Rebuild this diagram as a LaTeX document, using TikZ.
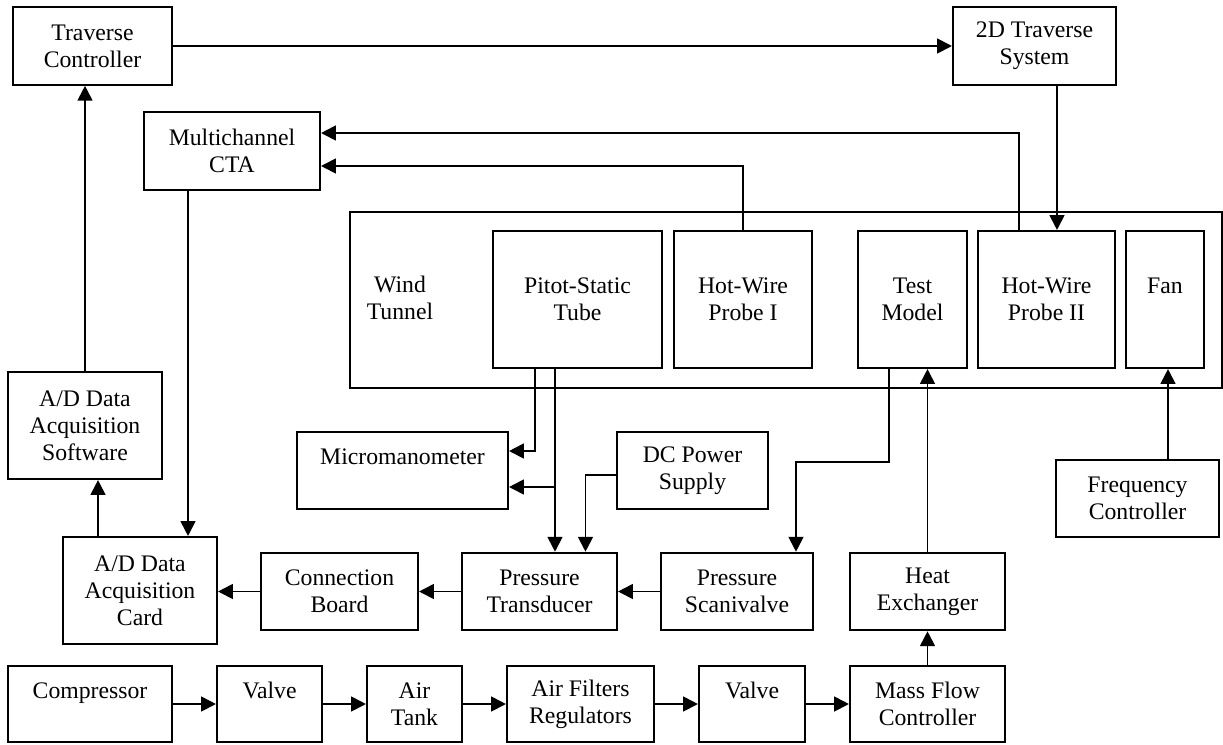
\documentclass[tikz,border=0pt]{standalone}
\usepackage{fontspec}
\setmainfont{Liberation Serif}
\usetikzlibrary{arrows.meta,calc}

\begin{document}
\begin{tikzpicture}[
        x=0.02cm, y=-0.02cm,
        blk/.style={draw, line width=1.2pt, align=center, inner sep=0pt, minimum height=1.55cm,
            font=\fontsize{13.5}{15.4}\selectfont},
        big/.style={blk, minimum height=2.14cm},
        tall/.style={blk, minimum height=2.74cm},
        low/.style={blk, minimum height=1.52cm},
        arr/.style={draw, line width=1.1pt, -{Triangle[length=8.5pt,width=8.5pt]}},
    ]
    \useasboundingbox (0,0) rectangle (1223,744);
    \node[blk, minimum width=3.18cm](tc) at (92.5,46) {Traverse\\Controller};
    \node[blk, minimum width=3.26cm](ts) at (1034.5,46) {2D Traverse\\System};
    \node[blk, minimum width=3.52cm](cta) at (232,151) {Multichannel\\CTA};
    \node[blk, minimum width=17.44cm, minimum height=3.52cm](tunnel) at (786,300) {};
    \node[font=\fontsize{13.5}{15.4}\selectfont, align=center](wtlabel) at (400,298) {Wind\\Tunnel};
    \node[tall, minimum width=3.38cm](pitot) at (577.5,299.5) {Pitot-Static\\Tube};
    \node[tall, minimum width=2.76cm](hwone) at (743,299.5) {Hot-Wire\\Probe I};
    \node[tall, minimum width=2.18cm](model) at (912.5,299.5) {Test\\Model};
    \node[tall, minimum width=2.74cm](hwtwo) at (1046.5,299.5) {Hot-Wire\\Probe II};
    \node[tall, minimum width=1.56cm](fan) at (1165,299.5) {Fan\\\mbox{}};
    \node[big, minimum width=3.08cm](soft) at (85,425.5) {A/D Data\\Acquisition\\Software};
    \node[big, minimum width=3.08cm](card) at (140,590.5) {A/D Data\\Acquisition\\Card};
    \node[blk, minimum width=4.22cm](mano) at (402.5,470.5) {Micromanometer\\\mbox{}};
    \node[blk, minimum width=3.02cm](dcps) at (692.5,470.5) {DC Power\\Supply};
    \node[blk, minimum width=3.26cm](freq) at (1137.5,498.5) {Frequency\\Controller};
    \node[blk, minimum width=3.14cm](board) at (339.5,591.5) {Connection\\Board};
    \node[blk, minimum width=3.10cm](trans) at (539.5,591.5) {Pressure\\Transducer};
    \node[blk, minimum width=3.04cm](scani) at (737,591.5) {Pressure\\Scanivalve};
    \node[blk, minimum width=3.10cm](heat) at (927.5,591.5) {Heat\\Exchanger};
    \node[low, minimum width=3.28cm](comp) at (90,704) {Compressor\\\mbox{}};
    \node[low, minimum width=2.10cm](valveA) at (269.5,704) {Valve\\\mbox{}};
    \node[low, minimum width=1.90cm](tank) at (414.5,704) {Air\\Tank};
    \node[low, minimum width=2.94cm](filter) at (580.5,704) {Air Filters\\Regulators};
    \node[low, minimum width=2.12cm](valveB) at (752,704) {Valve\\\mbox{}};
    \node[low, minimum width=3.10cm](mfc) at (927.5,704) {Mass Flow\\Controller};

    \coordinate (pin) at ([xshift=-0.45cm]pitot.south);
    \coordinate (mmlow) at ([yshift=-0.33cm]mano.east);

    \draw[arr] (tc) -- (ts);
    \draw[arr] (soft.north) -- (soft.north |- tc.south);
    \draw[arr] ([xshift=-0.84cm]card.north) -- ([xshift=-0.84cm]card.north |- soft.south);
    \draw[arr] ([xshift=-0.88cm]cta.south) -- ([xshift=-0.88cm]cta.south |- card.north);
    \draw[arr] (hwone.north) |- ([yshift=-0.3cm]cta.east);
    \draw[arr] ([xshift=-0.55cm]hwtwo.north) |- ([yshift=0.36cm]cta.east);
    \draw[arr] ([xshift=0.45cm]ts.south) -- ([xshift=0.45cm]ts.south |- hwtwo.north);
    \draw[arr] ([xshift=-0.85cm]pitot.south) |- ([yshift=0.39cm]mano.east);
    \draw[arr] (pin) -- (pin |- trans.north);
    \draw[arr] (pin |- mmlow) -- (mmlow);
    \draw[arr] ([yshift=-0.09cm]dcps.west) -| ([xshift=0.92cm]trans.north);
    \draw[arr] ([xshift=-0.47cm]model.south) -- ++(0,93) -| ([xshift=1.18cm]scani.north);
    \draw[arr] (heat.north) -- (heat.north |- model.south);
    \draw[arr] ([xshift=0.61cm]freq.north) -- ([xshift=0.61cm]freq.north |- fan.south);
    \draw[arr] (scani) -- (trans);
    \draw[arr] (trans) -- (board);
    \draw[arr] (board.west) -- (board.west -| card.east);
    \draw[arr] (mfc) -- (heat);
    \foreach \a/\b in {comp/valveA, valveA/tank, tank/filter, filter/valveB, valveB/mfc}
        \draw[arr] (\a) -- (\b);
    \end{tikzpicture}
\end{document}
